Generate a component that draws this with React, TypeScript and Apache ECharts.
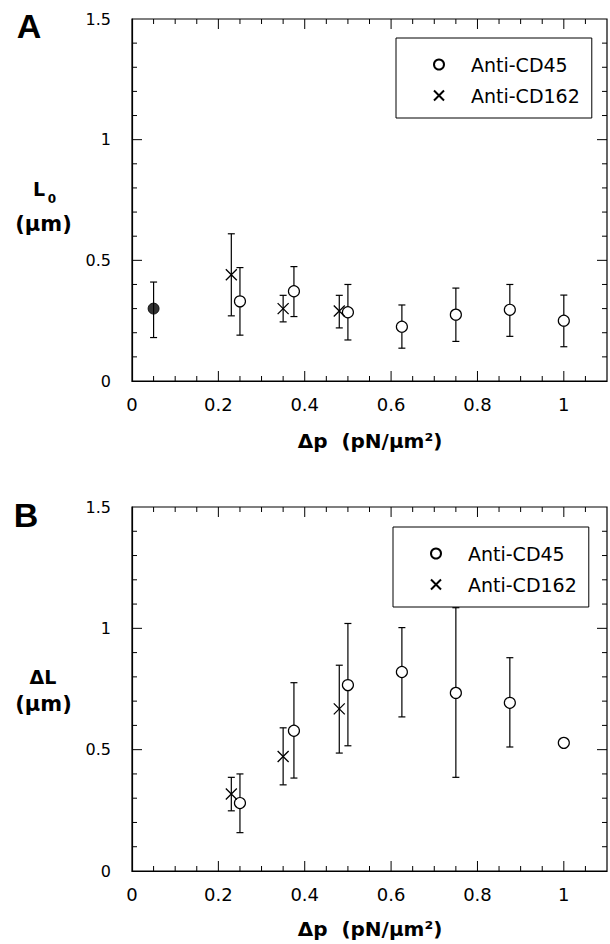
import React, { useEffect, useRef } from "react";
import * as echarts from "echarts";

// ---- Data ----
const pressureCD45 = [0.25, 0.375, 0.5, 0.625, 0.75, 0.875, 1.0];
const pressureCD162 = [0.23, 0.35, 0.48];
const pressureControl = [0.05];

// Panel A: L0 (µm)
const l0Control = [0.3];
const l0ControlLo = [0.18];
const l0ControlHi = [0.41];
const l0CD45 = [0.33, 0.372, 0.285, 0.225, 0.275, 0.295, 0.25];
const l0CD45Lo = [0.19, 0.267, 0.17, 0.136, 0.164, 0.185, 0.142];
const l0CD45Hi = [0.47, 0.474, 0.4, 0.315, 0.385, 0.4, 0.356];
const l0CD162 = [0.44, 0.3, 0.29];
const l0CD162Lo = [0.27, 0.245, 0.22];
const l0CD162Hi = [0.61, 0.355, 0.355];

// Panel B: ΔL (µm)
const dlCD45 = [0.28, 0.578, 0.766, 0.82, 0.734, 0.693, 0.528];
const dlCD45Lo = [0.158, 0.383, 0.516, 0.635, 0.386, 0.511, null];
const dlCD45Hi = [0.4, 0.776, 1.02, 1.003, 1.085, 0.879, null];
const dlCD162 = [0.317, 0.472, 0.668];
const dlCD162Lo = [0.248, 0.355, 0.486];
const dlCD162Hi = [0.386, 0.59, 0.848];

// Tick values
const xLabelValues = [0, 0.2, 0.4, 0.6, 0.8, 1];
const xMajorTicks = [0.2, 0.4, 0.6, 0.8, 1.0];
const xMinorTicks = [0.05, 0.1, 0.15, 0.25, 0.3, 0.35, 0.45, 0.5, 0.55, 0.65, 0.7, 0.75, 0.85, 0.9, 0.95, 1.05];
const yMajorTicks = [0.5, 1.0];
const yMinorTicks = [0.1, 0.2, 0.3, 0.4, 0.6, 0.7, 0.8, 0.9, 1.1, 1.2, 1.3, 1.4];
const legendNames = ["Anti-CD45", "Anti-CD162"];

const FONT = "DejaVu Sans";
const BOLD = "DejaVu Sans";

function xAxisDef(gridIndex: number) {
  return {
    type: "value",
    gridIndex,
    position: "bottom",
    min: 0,
    max: 1.1,
    interval: 0.2,
    axisLine: { show: true, onZero: false, lineStyle: { color: "#000", width: 1.2 } },
    axisTick: { show: false },
    axisLabel: {
      show: true,
      margin: 14,
      fontSize: 18,
      color: "#000",
      fontFamily: FONT,
      showMaxLabel: false,
      formatter: (v: number) => (xLabelValues.some((t) => Math.abs(t - v) < 1e-6) ? String(v) : ""),
    },
    splitLine: { show: false },
  };
}

function yAxisDef(gridIndex: number) {
  return {
    type: "value",
    gridIndex,
    position: "left",
    min: 0,
    max: 1.5,
    interval: 0.5,
    axisLine: { show: true, onZero: false, lineStyle: { color: "#000", width: 1.2 } },
    axisTick: { show: false },
    axisLabel: { show: true, margin: 21, fontSize: 16, color: "#000", fontFamily: FONT },
    splitLine: { show: false },
  };
}

// Inward ticks on all four sides, placed through the axes' scales
function tickSeries(xIdx: number, yIdx: number) {
  const data: number[][] = [
    ...xMajorTicks.map((v) => [v, 0, 0]),
    ...xMinorTicks.map((v) => [v, 0, 1]),
    ...yMajorTicks.map((v) => [0, v, 2]),
    ...yMinorTicks.map((v) => [0, v, 3]),
  ];
  return {
    type: "custom",
    name: "ticks",
    xAxisIndex: xIdx,
    yAxisIndex: yIdx,
    data,
    encode: { x: 0, y: 1 },
    z: 1,
    silent: true,
    clip: false,
    renderItem: (params: any, api: any) => {
      const cs = params.coordSys;
      const kind = api.value(2);
      const style = { stroke: "#000", lineWidth: 1 };
      const left = cs.x;
      const right = cs.x + cs.width;
      const top = cs.y;
      const bottom = cs.y + cs.height;
      if (kind < 2) {
        const len = kind === 0 ? 10 : 5;
        const px = api.coord([api.value(0), 0])[0];
        return {
          type: "group",
          children: [
            { type: "line", shape: { x1: px, y1: bottom, x2: px, y2: bottom - len }, style },
            { type: "line", shape: { x1: px, y1: top, x2: px, y2: top + len }, style },
          ],
        };
      }
      const len = kind === 2 ? 10 : 5;
      const py = api.coord([0, api.value(1)])[1];
      return {
        type: "group",
        children: [
          { type: "line", shape: { x1: left, y1: py, x2: left + len, y2: py }, style },
          { type: "line", shape: { x1: right, y1: py, x2: right - len, y2: py }, style },
        ],
      };
    },
  };
}

function errorSeries(
  name: string,
  xs: number[],
  lo: (number | null)[],
  hi: (number | null)[],
  xIdx: number,
  yIdx: number
) {
  const data = xs
    .map((x, i) => [x, lo[i], hi[i]])
    .filter((d) => d[1] != null && d[2] != null);
  return {
    type: "custom",
    name,
    xAxisIndex: xIdx,
    yAxisIndex: yIdx,
    data,
    encode: { x: 0, y: [1, 2] },
    z: 2,
    silent: true,
    renderItem: (params: any, api: any) => {
      const x = api.value(0);
      const p1 = api.coord([x, api.value(1)]);
      const p2 = api.coord([x, api.value(2)]);
      const cw = 3.5;
      const style = { stroke: "#000", lineWidth: 1.2 };
      return {
        type: "group",
        children: [
          { type: "line", shape: { x1: p1[0], y1: p1[1], x2: p2[0], y2: p2[1] }, style },
          { type: "line", shape: { x1: p1[0] - cw, y1: p1[1], x2: p1[0] + cw, y2: p1[1] }, style },
          { type: "line", shape: { x1: p2[0] - cw, y1: p2[1], x2: p2[0] + cw, y2: p2[1] }, style },
        ],
      };
    },
  };
}

const CROSS = "path://M0,0L10,10M10,0L0,10";

function circleSeries(name: string, xs: number[], ys: number[], xIdx: number, yIdx: number) {
  return {
    type: "scatter",
    name,
    xAxisIndex: xIdx,
    yAxisIndex: yIdx,
    data: xs.map((x, i) => [x, ys[i]]),
    symbol: "circle",
    symbolSize: 11,
    z: 5,
    itemStyle: { color: "#fff", borderColor: "#000", borderWidth: 1.2, opacity: 1 },
  };
}

function crossSeries(name: string, xs: number[], ys: number[], xIdx: number, yIdx: number) {
  return {
    type: "scatter",
    name,
    xAxisIndex: xIdx,
    yAxisIndex: yIdx,
    data: xs.map((x, i) => [x, ys[i]]),
    symbol: CROSS,
    symbolSize: 11,
    z: 5,
    itemStyle: { color: "rgba(0,0,0,0)", borderColor: "#000", borderWidth: 1.3, opacity: 1 },
  };
}

function legendDef(left: number, top: number) {
  return {
    data: legendNames,
    orient: "vertical",
    left,
    top,
    itemWidth: 10,
    itemHeight: 10,
    itemGap: 12,
    padding: [17, 12, 13, 37],
    borderColor: "#000",
    borderWidth: 1,
    selectedMode: false,
    textStyle: { color: "#000", fontSize: 19, fontFamily: FONT, padding: [0, 0, 0, 22] },
  };
}

export default function App() {
  const ref = useRef<HTMLDivElement>(null);

  useEffect(() => {
    document.body.style.margin = "0";
    if (!ref.current) return;
    const chart = echarts.init(ref.current, null, { renderer: "svg" });
    const boldText = (text: string, x: number, y: number, size: number, family = BOLD) => ({
      type: "text",
      x,
      y,
      style: { text, fontSize: size, fontWeight: "bold", fontFamily: family, fill: "#000", align: "center", verticalAlign: "middle" },
    });
    const option: any = {
      animation: false,
      backgroundColor: "#fff",
      grid: [
        { left: 132, top: 19, width: 475, height: 362, show: true, borderColor: "#000", borderWidth: 1.2, backgroundColor: "transparent" },
        { left: 132, top: 507, width: 475, height: 364, show: true, borderColor: "#000", borderWidth: 1.2, backgroundColor: "transparent" },
      ],
      xAxis: [xAxisDef(0), xAxisDef(1)],
      yAxis: [yAxisDef(0), yAxisDef(1)],
      legend: [legendDef(396, 38), legendDef(393, 527)],
      series: [
        tickSeries(0, 0),
        tickSeries(1, 1),
        errorSeries("errControlA", pressureControl, l0ControlLo, l0ControlHi, 0, 0),
        errorSeries("errCD45A", pressureCD45, l0CD45Lo, l0CD45Hi, 0, 0),
        errorSeries("errCD162A", pressureCD162, l0CD162Lo, l0CD162Hi, 0, 0),
        {
          type: "scatter",
          name: "Control",
          xAxisIndex: 0,
          yAxisIndex: 0,
          data: pressureControl.map((x, i) => [x, l0Control[i]]),
          symbol: "circle",
          symbolSize: 11,
          z: 5,
          itemStyle: { color: "#000", borderColor: "#000", borderWidth: 1 },
        },
        circleSeries("Anti-CD45", pressureCD45, l0CD45, 0, 0),
        crossSeries("Anti-CD162", pressureCD162, l0CD162, 0, 0),
        errorSeries("errCD45B", pressureCD45, dlCD45Lo, dlCD45Hi, 1, 1),
        errorSeries("errCD162B", pressureCD162, dlCD162Lo, dlCD162Hi, 1, 1),
        circleSeries("Anti-CD45", pressureCD45, dlCD45, 1, 1),
        crossSeries("Anti-CD162", pressureCD162, dlCD162, 1, 1),
      ],
      graphic: [
        boldText("A", 29, 26, 34, "Liberation Sans"),
        boldText("B", 26, 515, 34, "Liberation Sans"),
        boldText("L", 39, 189, 19),
        boldText("0", 52, 199, 12),
        boldText("(μm)", 43.5, 224, 21),
        boldText("ΔL", 43, 677, 19),
        boldText("(μm)", 43.5, 704, 21),
        boldText("Δp  (pN/μm²)", 370, 441, 20),
        boldText("Δp  (pN/μm²)", 370, 929, 20),
      ],
    };
    chart.setOption(option);
    return () => chart.dispose();
  }, []);

  return <div ref={ref} style={{ width: 610, height: 944 }} />;
}
